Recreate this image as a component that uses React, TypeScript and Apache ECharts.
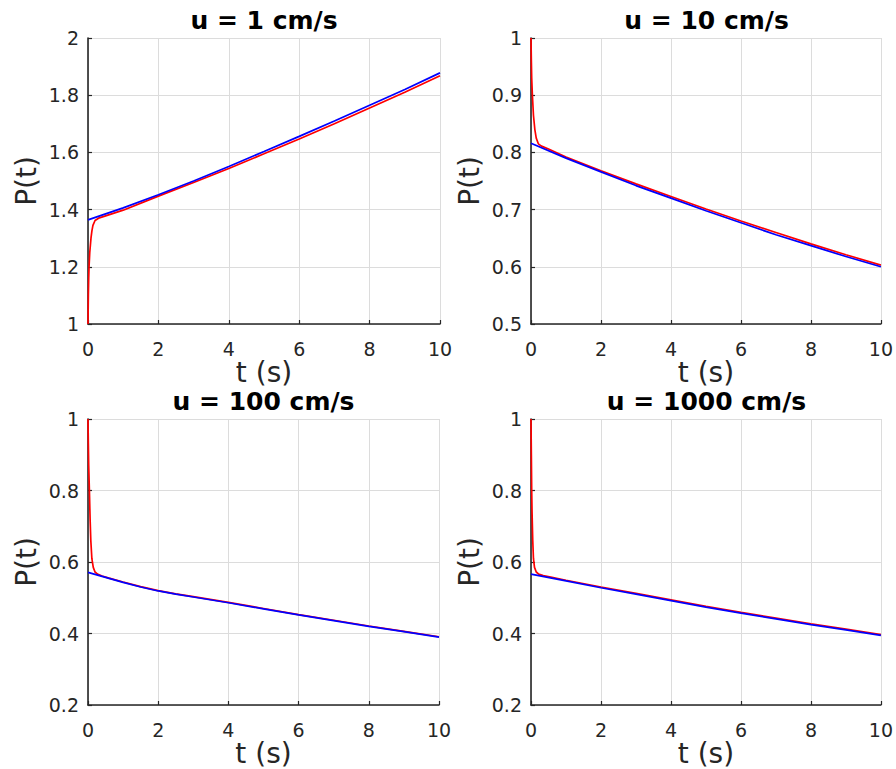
import React, { useEffect, useRef } from "react";
import * as echarts from "echarts";

// ---------- DATA ----------
const titles = ["u = 1 cm/s", "u = 10 cm/s", "u = 100 cm/s", "u = 1000 cm/s"];
const xTicks = [0, 2, 4, 6, 8, 10];
const yTicksA = [1, 1.2, 1.4, 1.6, 1.8, 2];
const yTicksB = [0.5, 0.6, 0.7, 0.8, 0.9, 1];
const yTicksC = [0.2, 0.4, 0.6, 0.8, 1];
const yTicksD = [0.2, 0.4, 0.6, 0.8, 1];

// u = 1 cm/s
const tA_red = [0, 0.01, 0.02, 0.03, 0.05, 0.085, 0.11, 0.14, 0.2, 0.3, 0.5, 1, 2, 3, 4, 5, 6, 7, 8, 9, 10];
const pA_red = [1.0, 1.1, 1.16, 1.2, 1.25, 1.3, 1.325, 1.345, 1.362, 1.37, 1.378, 1.398, 1.447, 1.495, 1.544, 1.595, 1.647, 1.7, 1.755, 1.81, 1.868];
const tA_blue = [0, 1, 2, 3, 4, 5, 6, 7, 8, 9, 10];
const pA_blue = [1.364, 1.406, 1.452, 1.5, 1.551, 1.603, 1.656, 1.71, 1.765, 1.82, 1.878];

// u = 10 cm/s
const tB_red = [0, 0.01, 0.02, 0.04, 0.07, 0.11, 0.15, 0.21, 0.3, 0.5, 1, 2, 3, 4, 5, 6, 7, 8, 9, 10];
const pB_red = [1.0, 0.96, 0.93, 0.9, 0.865, 0.84, 0.825, 0.815, 0.811, 0.806, 0.792, 0.768, 0.745, 0.723, 0.701, 0.68, 0.66, 0.64, 0.621, 0.603];
const tB_blue = [0, 1, 2, 3, 4, 5, 6, 7, 8, 9, 10];
const pB_blue = [0.816, 0.79, 0.766, 0.742, 0.72, 0.698, 0.677, 0.656, 0.637, 0.618, 0.6];

// u = 100 cm/s
const tC_red = [0, 0.01, 0.02, 0.04, 0.06, 0.08, 0.11, 0.15, 0.2, 0.27, 0.4, 0.6, 1, 1.5, 2, 2.5, 3, 4, 5, 6, 7, 8, 9, 10];
const pC_red = [1.0, 0.93, 0.87, 0.8, 0.72, 0.66, 0.61, 0.585, 0.572, 0.566, 0.561, 0.555, 0.544, 0.531, 0.52, 0.511, 0.503, 0.487, 0.47, 0.453, 0.437, 0.421, 0.406, 0.391];
const tC_blue = [0, 0.5, 1, 1.5, 2, 2.5, 3, 4, 5, 6, 7, 8, 9, 10];
const pC_blue = [0.571, 0.557, 0.543, 0.53, 0.519, 0.51, 0.502, 0.486, 0.469, 0.452, 0.436, 0.42, 0.405, 0.39];

// u = 1000 cm/s
const tD_red = [0, 0.01, 0.02, 0.03, 0.05, 0.07, 0.1, 0.15, 0.22, 0.35, 0.6, 1, 2, 3, 4, 5, 6, 7, 8, 9, 10];
const pD_red = [1.0, 0.9, 0.8, 0.74, 0.66, 0.61, 0.585, 0.572, 0.566, 0.562, 0.557, 0.549, 0.53, 0.512, 0.494, 0.476, 0.459, 0.443, 0.427, 0.412, 0.397];
const tD_blue = [0, 1, 2, 3, 4, 5, 6, 7, 8, 9, 10];
const pD_blue = [0.566, 0.547, 0.528, 0.51, 0.492, 0.474, 0.457, 0.441, 0.425, 0.41, 0.395];

// ---------- LAYOUT ----------
const FONT = "DejaVu Sans";
const AXIS_COLOR = "#262626";
const GRID_COLOR = "#dcdcdc";

const panels = [
  { left: 88, top: 38, width: 352, height: 286, yTicks: yTicksA, tr: tA_red, pr: pA_red, tb: tA_blue, pb: pA_blue },
  { left: 531, top: 38, width: 351, height: 286, yTicks: yTicksB, tr: tB_red, pr: pB_red, tb: tB_blue, pb: pB_blue },
  { left: 88, top: 419, width: 351, height: 286, yTicks: yTicksC, tr: tC_red, pr: pC_red, tb: tC_blue, pb: pC_blue },
  { left: 531, top: 419, width: 351, height: 286, yTicks: yTicksD, tr: tD_red, pr: pD_red, tb: tD_blue, pb: pD_blue },
];

const zip = (t: number[], p: number[]) => t.map((v, i) => [v, p[i]]);
const step = (a: number[]) => Math.round((a[1] - a[0]) * 1000) / 1000;

export default function App() {
  const ref = useRef<HTMLDivElement>(null);
  useEffect(() => {
    if (!ref.current) return;
    const chart = echarts.init(ref.current, undefined, { renderer: "svg" });
    const grid: any[] = [];
    const xAxis: any[] = [];
    const yAxis: any[] = [];
    const series: any[] = [];
    const title: any[] = [];
    panels.forEach((p, i) => {
      grid.push({ left: p.left, top: p.top, width: p.width, height: p.height, containLabel: false });
      const common = {
        gridIndex: i,
        axisLine: { show: true, onZero: false, lineStyle: { color: AXIS_COLOR, width: 1.6 } },
        axisTick: { show: true, inside: true, length: 4, lineStyle: { color: AXIS_COLOR, width: 1.2 } },
        splitLine: { show: true, lineStyle: { color: GRID_COLOR, width: 1 } },
        nameLocation: "middle",
        nameTextStyle: { fontFamily: FONT, fontSize: 28, color: AXIS_COLOR },
      };
      xAxis.push({
        ...common,
        type: "value",
        min: xTicks[0],
        max: xTicks[xTicks.length - 1],
        interval: step(xTicks),
        name: "t (s)",
        nameGap: 28,
        axisLabel: { fontFamily: FONT, fontSize: 19, color: AXIS_COLOR, margin: 15 },
      });
      yAxis.push({
        ...common,
        type: "value",
        min: p.yTicks[0],
        max: p.yTicks[p.yTicks.length - 1],
        interval: step(p.yTicks),
        name: "P(t)",
        nameGap: 48,
        axisLabel: { fontFamily: FONT, fontSize: 19, color: AXIS_COLOR, margin: 9 },
      });
      series.push({
        type: "line",
        xAxisIndex: i,
        yAxisIndex: i,
        data: zip(p.tr, p.pr),
        showSymbol: false,
        smooth: false,
        lineStyle: { color: "#ff0000", width: 1.7 },
        itemStyle: { color: "#ff0000" },
        z: 3,
      });
      series.push({
        type: "line",
        xAxisIndex: i,
        yAxisIndex: i,
        data: zip(p.tb, p.pb),
        showSymbol: false,
        smooth: false,
        lineStyle: { color: "#0000ff", width: 1.7 },
        itemStyle: { color: "#0000ff" },
        z: 4,
      });
      title.push({
        text: titles[i],
        left: p.left + p.width / 2,
        top: p.top - 30,
        textAlign: "center",
        padding: 0,
        textStyle: { fontFamily: FONT, fontSize: 25, fontWeight: "bold", color: "#000000" },
      });
    });
    chart.setOption({
      animation: false,
      backgroundColor: "#ffffff",
      title,
      grid,
      xAxis,
      yAxis,
      series,
    });
    return () => chart.dispose();
  }, []);
  return (
    <div
      ref={ref}
      style={{ position: "fixed", left: 0, top: 0, width: 896, height: 769, background: "#fff" }}
    />
  );
}
